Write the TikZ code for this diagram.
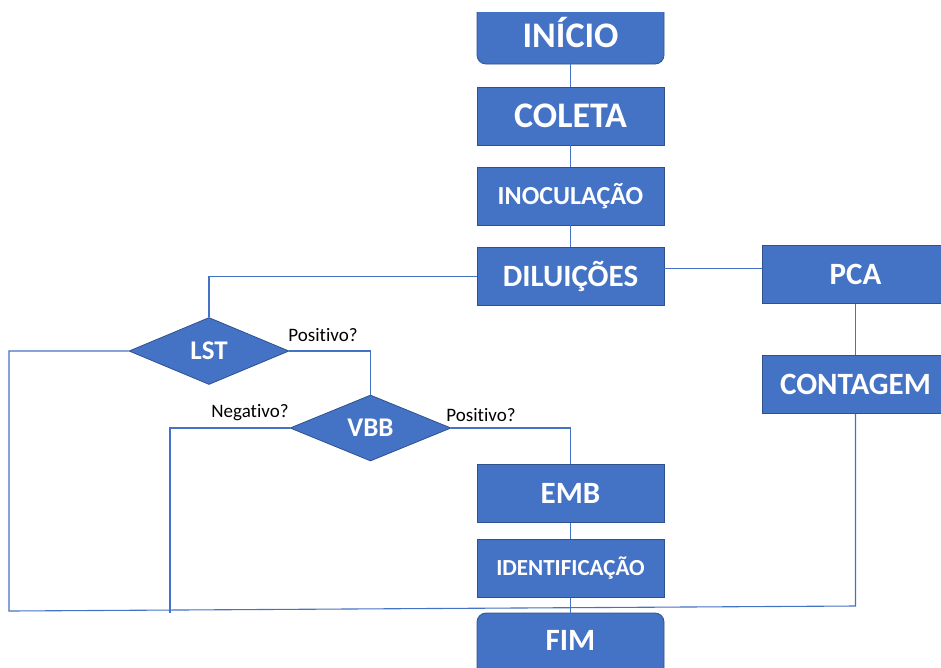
\documentclass[tikz,border=0pt]{standalone}
\usepackage{fontspec}
\setmainfont[Ligatures=NoCommon]{Carlito}
\usetikzlibrary{shapes.geometric}
\definecolor{boxblue}{HTML}{4472C4}
\definecolor{boxedge}{HTML}{2F528F}
\tikzset{
  fsz/.code={\pgfmathsetmacro\mytxth{0.632*#1}\tikzset{font=\fontsize{#1}{#1}\selectfont\bfseries, text height=\mytxth pt, text depth=0pt}},
  boxshape/.style={fill=boxblue, draw=boxedge, line width=0.8pt},
  procbox/.style={boxshape, rectangle, minimum width=187, minimum height=58, inner sep=0pt, text=white},
  txtonly/.style={rectangle, minimum width=187, minimum height=54, inner sep=0pt, text=white},
  decision/.style={boxshape, diamond, minimum width=160, minimum height=67, inner sep=0pt, text=white},
  conn/.style={draw=boxblue, line width=1.1pt},
  lbl/.style={font=\fontsize{19}{19}\selectfont, text=black, inner sep=0pt, text height=0.632*19pt, text depth=0pt}
}
\begin{document}
\begin{tikzpicture}[x=1pt,y=-1pt]
\useasboundingbox (0,0) rectangle (941,667);
% start shape (clipped at top)
\begin{scope}
  \clip (0,12) rectangle (941,667);
  \path[boxshape, rounded corners=9] (477,-20) rectangle (664,64);
\end{scope}
\node[txtonly, fsz=36] (ini) at (570.5,36) {INÍCIO};
% end shape
\path[boxshape, rounded corners=9] (477,613) rectangle (664,700);
\node[txtonly, fsz=31] (fim) at (570.5,641) {FIM};

\node[procbox, fsz=36] (col) at (570.5,116) {COLETA};
\node[procbox, fsz=26] (ino) at (570.5,196) {INOCULAÇÃO};
\node[procbox, fsz=31] (dil) at (570.5,276.5) {DILUIÇÕES};
\node[procbox, fsz=31] (pca) at (855.5,274.5) {PCA};
\node[procbox, fsz=31] (cont) at (855.5,384.5) {CONTAGEM};
\node[procbox, fsz=31] (emb) at (570.5,493.5) {EMB};
\node[procbox, fsz=23] (ident) at (570.5,568.5) {IDENTIFICAÇÃO};
\node[decision, fsz=27] (lst) at (209,351) {LST};
\node[decision, fsz=27, minimum width=161, minimum height=66] (vbb) at (370.5,428) {VBB};

\coordinate (topL) at (9,351);
\coordinate (botL) at (9,611);
\coordinate (botR) at (855.5,606);
\coordinate (negT) at (170,428);
\coordinate (negB) at (170,613);

\draw[conn] (ini.south) -- (col.north);
\draw[conn] (col.south) -- (ino.north);
\draw[conn] (ino.south) -- (dil.north);
\draw[conn] (dil.west) -- (dil.west -| lst.north) -- (lst.north);
\draw[conn] ([yshift=8]dil.east) -- ([yshift=8]dil.east -| pca.west);
\draw[conn] (pca.south) -- (cont.north);
\draw[conn] (lst.east) -- (lst.east -| vbb.north) -- (vbb.north);
\draw[conn] (vbb.east) -- (vbb.east -| emb.north) -- (emb.north);
\draw[conn] (vbb.west) -- (negT) -- (negB);
\draw[conn] (emb.south) -- (ident.north);
\draw[conn] (ident.south) -- (fim.north);
\draw[conn] (lst.west) -- (topL) -- (botL) -- (botR) -- (cont.south);

\node[lbl] (lp) at (323,335) {Positivo?};
\node[lbl] (vn) at (250,411) {Negativo?};
\node[lbl] (vp) at (481,415) {Positivo?};
\end{tikzpicture}
\end{document}
